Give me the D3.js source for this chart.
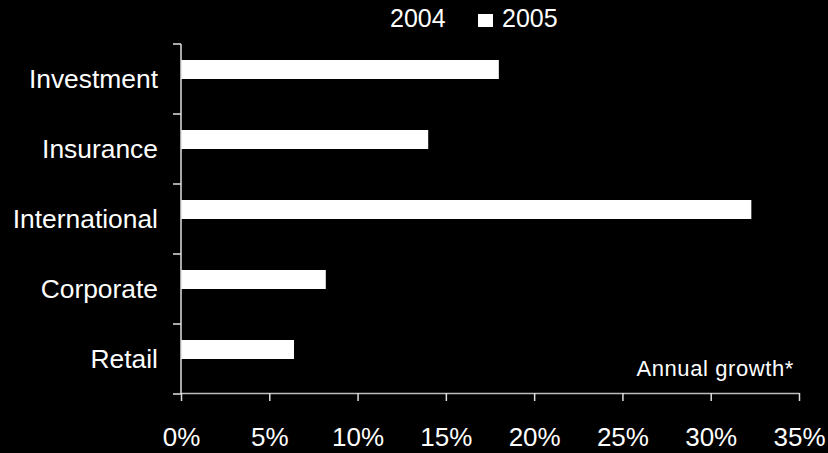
<!DOCTYPE html>
<html>
<head>
<meta charset="utf-8">
<script src="https://cdn.jsdelivr.net/npm/d3@7"></script>
<style>
  html, body { margin: 0; padding: 0; background: #000; }
  svg { display: block; }
  text { font-family: "Liberation Sans", Arial, sans-serif; fill: #fff; }
</style>
</head>
<body>
<div id="chart"></div>
<script>
// Data
const categories = ["Investment", "Insurance", "International", "Corporate", "Retail"];
const seriesNames = ["2004", "2005"];
const values2004 = [12.0, 9.0, 20.0, 6.0, 5.0]; // drawn in black (not visible in the reference)
const values2005 = [18.0, 14.0, 32.3, 8.2, 6.4];
const xTicks = [0, 5, 10, 15, 20, 25, 30, 35];
const noteText = "Annual growth*";

const W = 828, H = 453;
const svg = d3.select("#chart").append("svg").attr("width", W).attr("height", H);

const x = d3.scaleLinear().domain([0, 35]).range([181, 799]);
const y = d3.scaleBand().domain(categories).range([44, 394]).paddingInner(0).paddingOuter(0);
const ySub = d3.scaleBand().domain(["2005", "2004"]).range([0, y.bandwidth()]).paddingInner(0).paddingOuter(0.842);
const color = d3.scaleOrdinal().domain(seriesNames).range(["#000000", "#ffffff"]);

const rows = categories.map((c, i) => ({ cat: c, "2004": values2004[i], "2005": values2005[i] }));

// Bars
const g = svg.append("g");
g.selectAll("g.cat").data(rows).join("g")
  .attr("class", "cat")
  .attr("transform", d => `translate(0,${y(d.cat)})`)
  .selectAll("rect").data(d => seriesNames.map(s => ({ s, v: d[s] })))
  .join("rect")
  .attr("x", x(0))
  .attr("y", d => ySub(d.s))
  .attr("height", ySub.bandwidth())
  .attr("width", d => x(d.v) - x(0))
  .attr("fill", d => color(d.s));

// Y axis (category boundaries ticks)
const yAxisG = svg.append("g");
yAxisG.append("line")
  .attr("x1", x(0)).attr("x2", x(0))
  .attr("y1", y.range()[0]).attr("y2", y.range()[1])
  .attr("stroke", "#e0e0e0").attr("stroke-width", 1.5);
const bounds = categories.map(c => y(c)).concat([y.range()[1]]);
yAxisG.selectAll("line.tk").data(bounds).join("line")
  .attr("class", "tk")
  .attr("x1", x(0) - 8).attr("x2", x(0))
  .attr("y1", d => d).attr("y2", d => d)
  .attr("stroke", "#e0e0e0").attr("stroke-width", 1.5);
yAxisG.selectAll("text").data(categories).join("text")
  .attr("x", 158)
  .attr("y", d => y(d) + y.bandwidth() / 2)
  .attr("dy", "0.35em")
  .attr("text-anchor", "end")
  .style("font-size", "26.4px")
  .text(d => d);

// X axis
const xAxis = d3.axisBottom(x).tickValues(xTicks).tickFormat(d => d + "%").tickSize(8).tickSizeOuter(0);
const xg = svg.append("g").attr("transform", `translate(0,${y.range()[1] - 1})`).call(xAxis);
xg.select(".domain").attr("stroke", "#bbbbbb").attr("stroke-width", 1.5);
xg.selectAll(".tick line").attr("stroke", "#dddddd").attr("stroke-width", 1.5);
xg.selectAll(".tick text")
  .attr("y", 44)
  .attr("dy", "0.35em")
  .style("font-size", "26px")
  .style("font-family", "'Liberation Sans', Arial, sans-serif")
  .attr("fill", "#fff");

// Legend
const legendItems = [
  { s: "2004", tx: 390, sq: 370 },
  { s: "2005", tx: 502, sq: 478 }
];
const lg = svg.append("g");
lg.selectAll("rect").data(legendItems).join("rect")
  .attr("x", d => d.sq).attr("y", 14).attr("width", 15).attr("height", 13)
  .attr("fill", d => color(d.s));
lg.selectAll("text").data(legendItems).join("text")
  .attr("x", d => d.tx).attr("y", 27)
  .style("font-size", "25px")
  .text(d => d.s);

// Note
svg.append("text")
  .attr("x", 794).attr("y", 376)
  .attr("text-anchor", "end")
  .style("font-size", "22px")
  .style("letter-spacing", "0.6px")
  .text(noteText);
</script>
</body>
</html>
